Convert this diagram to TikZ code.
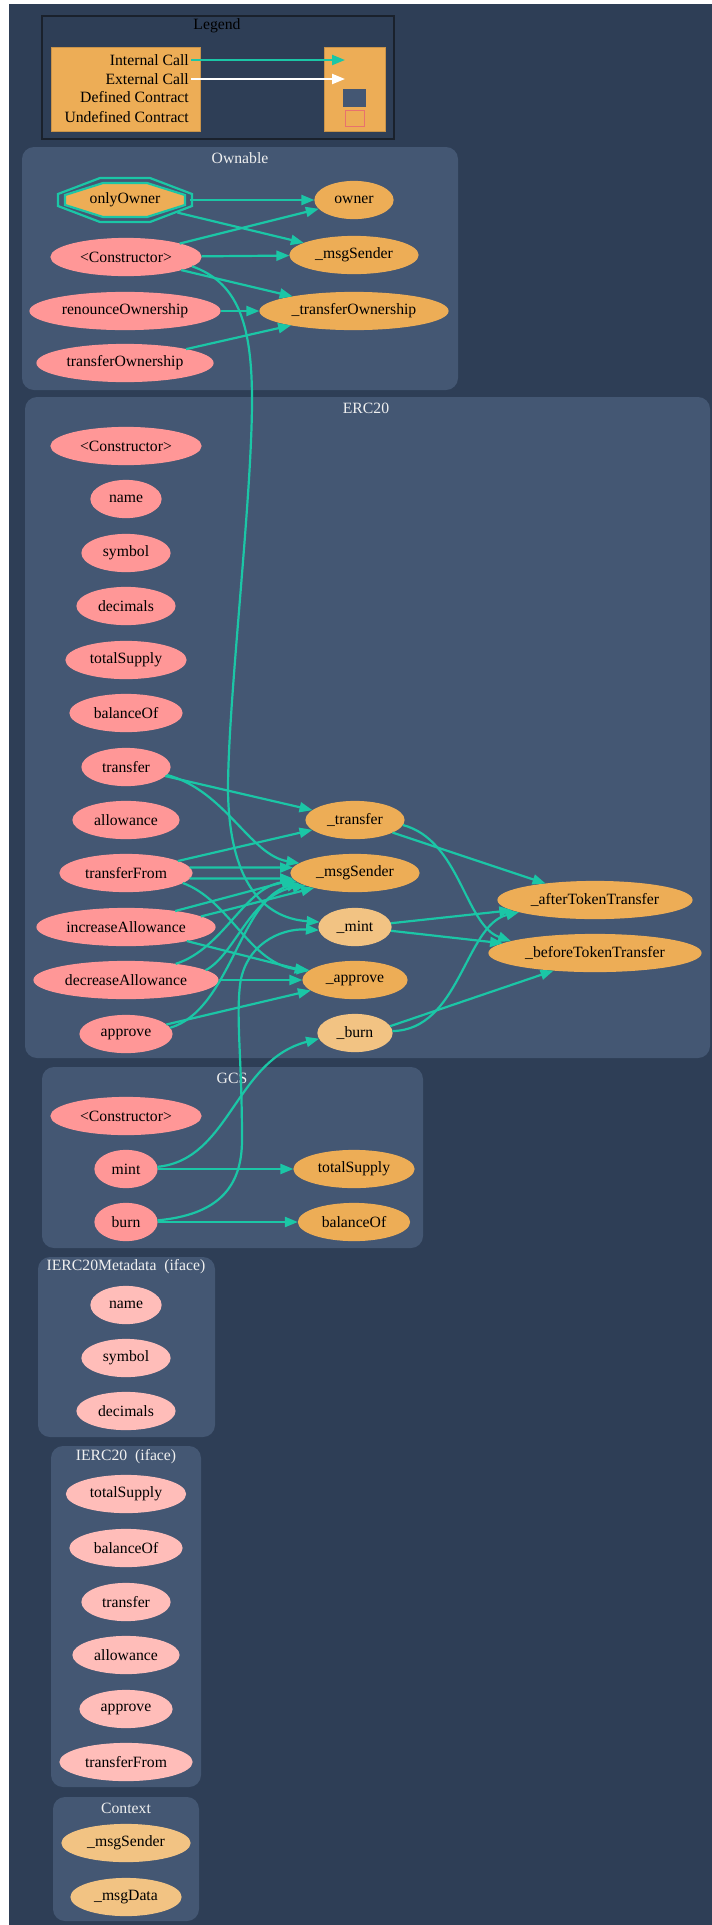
\documentclass[tikz,border=0pt]{standalone}
\usepackage{fontspec}
\setmainfont{Liberation Serif}
\usetikzlibrary{arrows.meta,shapes.geometric}
\definecolor{bgc}{HTML}{2E3E56}
\definecolor{clc}{HTML}{445773}
\definecolor{teal}{HTML}{1BC6A6}
\definecolor{pubc}{HTML}{FF9797}
\definecolor{extc}{HTML}{FFBDB9}
\definecolor{privc}{HTML}{EDAD56}
\definecolor{intc}{HTML}{F2C383}
\definecolor{titc}{HTML}{F0F0F0}
\definecolor{undc}{HTML}{E8726D}
\definecolor{legb}{HTML}{1A212C}
\begin{document}
\begin{tikzpicture}[x=1pt,y=-1pt,
  every node/.style={font=\fontsize{15.7}{18}\selectfont},
  fn/.style={ellipse, inner sep=0pt, line width=1.2pt, minimum height=37pt, text=black},
  pubn/.style={fn, fill=pubc, draw=pubc},
  extn/.style={fn, fill=extc, draw=extc},
  privn/.style={fn, fill=privc, draw=privc},
  intn/.style={fn, fill=intc, draw=intc},
  clus/.style={fill=clc, rounded corners=12pt},
  ctitle/.style={text=titc, inner sep=0pt},
  call/.style={draw=teal, line width=2.2pt, -{Triangle[length=13pt,width=10pt]}},
  extcall/.style={draw=white, line width=2.2pt, -{Triangle[length=13pt,width=10pt]}},
  legtxt/.style={anchor=east, inner sep=2pt, text=black}
]
\useasboundingbox (0,0) rectangle (712,1925);
\fill[white] (0,0) rectangle (712,1925);
\fill[bgc] (9,4) rectangle (712,1925);

% ---------- Legend ----------
\draw[legb, line width=2pt] (42,16) rectangle (394,139);
\node[text=black, inner sep=0pt] (legtitle) at (217,26) {Legend};
\filldraw[fill=privc, draw=privc!85!black, line width=0.6pt] (51,47) rectangle (200,131);
\filldraw[fill=privc, draw=privc!85!black, line width=0.6pt] (324,47) rectangle (385,131);
\node[legtxt] (lic) at (191,60) {Internal Call};
\node[legtxt] (lec) at (191,79) {External Call};
\node[legtxt] (ldc) at (191,97) {Defined Contract};
\node[legtxt] (luc) at (191,117) {Undefined Contract};
\coordinate (ric) at (345,60);
\coordinate (rec) at (345,79);
\fill[clc] (343,89) rectangle (366,107);
\draw[undc, line width=1pt] (345,110) rectangle (364,126);
\draw[call] (lic.east) -- (ric);
\draw[extcall] (lec.east) -- (rec);

% ---------- Clusters ----------
\fill[clus] (22,147) rectangle (458,390);
\node[ctitle] (tOwn) at (240,158) {Ownable};
\fill[clus] (25,397) rectangle (710,1058);
\node[ctitle] (tERC) at (366,408) {ERC20};
\fill[clus] (42,1067) rectangle (423,1248);
\node[ctitle] (tGCS) at (232,1078) {GCS};
\fill[clus] (38,1257) rectangle (215,1437);
\node[ctitle] (tMeta) at (126,1267) {IERC20Metadata\ \ (iface)};
\fill[clus] (51,1446) rectangle (201,1787);
\node[ctitle] (tIE) at (126,1457) {IERC20\ \ (iface)};
\fill[clus] (53,1797) rectangle (199,1921);
\node[ctitle] (tCtx) at (126,1808) {Context};

% ---------- Ownable ----------
\draw[shift={(125,200)}, draw=teal, fill=clc, line width=2.2pt]
  (-67,-6) -- (-25,-22) -- (25,-22) -- (67,-6) -- (67,6) -- (25,22) -- (-25,22) -- (-67,6) -- cycle;
\draw[shift={(125,200)}, draw=teal, fill=privc, line width=2.2pt]
  (-60,-5) -- (-22,-17) -- (22,-17) -- (60,-5) -- (60,5) -- (22,17) -- (-22,17) -- (-60,5) -- cycle;
\node[ellipse, inner sep=0pt, minimum width=130pt, minimum height=42pt, text=black] (oo) at (125,200) {onlyOwner};
\node[privn, minimum width=78pt] (own) at (354,200) {owner};
\node[pubn, minimum width=150pt] (ct1) at (126,257) {<Constructor>};
\node[privn, minimum width=128pt] (ms1) at (354,255) {\_msgSender};
\node[pubn, minimum width=190pt] (ren) at (125,311) {renounceOwnership};
\node[privn, minimum width=188pt] (to1) at (354,311) {\_transferOwnership};
\node[pubn, minimum width=176pt] (tow) at (125,363) {transferOwnership};

% ---------- ERC20 ----------
\node[pubn, minimum width=150pt] (ct2) at (126,446) {<Constructor>};
\node[pubn, minimum width=70pt] (nm) at (126,499) {name};
\node[pubn, minimum width=88pt] (sy) at (126,553) {symbol};
\node[pubn, minimum width=98pt] (dc) at (126,606) {decimals};
\node[pubn, minimum width=120pt] (ts) at (126,660) {totalSupply};
\node[pubn, minimum width=112pt] (bo) at (126,713) {balanceOf};
\node[pubn, minimum width=88pt] (tr) at (126,767) {transfer};
\node[pubn, minimum width=106pt] (al) at (126,820) {allowance};
\node[pubn, minimum width=132pt] (tf) at (126,873) {transferFrom};
\node[pubn, minimum width=178pt] (ia) at (126,927) {increaseAllowance};
\node[pubn, minimum width=184pt] (da) at (126,980) {decreaseAllowance};
\node[pubn, minimum width=92pt] (ap) at (126,1034) {approve};

\node[privn, minimum width=98pt] (itr) at (355,820) {\_transfer};
\node[privn, minimum width=128pt] (ims) at (355,873) {\_msgSender};
\node[intn, minimum width=72pt] (imint) at (355,927) {\_mint};
\node[privn, minimum width=104pt] (iap) at (355,980) {\_approve};
\node[intn, minimum width=74pt] (iburn) at (355,1033) {\_burn};
\node[privn, minimum width=194pt] (aft) at (595,900) {\_afterTokenTransfer};
\node[privn, minimum width=212pt] (bef) at (595,953) {\_beforeTokenTransfer};

% ---------- GCS ----------
\node[pubn, minimum width=150pt] (ct3) at (126,1116) {<Constructor>};
\node[pubn, minimum width=62pt] (gmint) at (126,1169) {mint};
\node[pubn, minimum width=62pt] (gburn) at (126,1222) {burn};
\node[privn, minimum width=120pt] (gts) at (354,1169) {totalSupply};
\node[privn, minimum width=111pt] (gbo) at (354,1222) {balanceOf};

% ---------- IERC20Metadata ----------
\node[extn, minimum width=70pt] (mnm) at (126,1305) {name};
\node[extn, minimum width=88pt] (msy) at (126,1358) {symbol};
\node[extn, minimum width=98pt] (mdc) at (126,1411) {decimals};

% ---------- IERC20 ----------
\node[extn, minimum width=119pt] (ets) at (126,1494) {totalSupply};
\node[extn, minimum width=112pt] (ebo) at (126,1548) {balanceOf};
\node[extn, minimum width=88pt] (etr) at (126,1602) {transfer};
\node[extn, minimum width=106pt] (eal) at (126,1655) {allowance};
\node[extn, minimum width=92pt] (eap) at (126,1709) {approve};
\node[extn, minimum width=132pt] (etf) at (126,1762) {transferFrom};

% ---------- Context ----------
\node[intn, minimum width=128pt] (cms) at (126,1843) {\_msgSender};
\node[intn, minimum width=110pt] (cmd) at (126,1897) {\_msgData};

% ---------- Edges: Ownable ----------
\draw[call] (oo) -- (own);
\draw[call] (oo) -- (ms1);
\draw[call] (ct1) -- (own);
\draw[call] (ct1) -- (ms1);
\draw[call] (ct1) -- (to1);
\draw[call] (ren) -- (to1);
\draw[call] (tow) -- (to1);
\draw[call] (ct1.-8) .. controls (236,282) and (252,320) .. (252,400)
  .. controls (252,500) and (228,700) .. (228,790)
  .. controls (229,880) and (262,918) .. (imint.172);

% ---------- Edges: ERC20 ----------
\draw[call] (tr) -- (itr);
\draw[call] (tr.-11) .. controls (225,790) and (250,855) .. (ims.170);
\draw[call] (tf) -- (itr);
\draw[call] (tf.5) -- (ims.175);
\draw[call] (tf.-5) -- (ims.185);
\draw[call] (tf.-10) .. controls (230,900) and (250,965) .. (iap.168);
\draw[call] (ia.18) -- (ims.186);
\draw[call] (ia.8) -- (ims.200);
\draw[call] (ia.-13) -- (iap.170);
\draw[call] (da.18) .. controls (225,948) and (245,885) .. (ims.188);
\draw[call] (da.7) .. controls (235,955) and (250,895) .. (ims.194);
\draw[call] (da) -- (iap);
\draw[call] (ap.8) .. controls (230,1010) and (240,900) .. (ims.190);
\draw[call] (ap) -- (iap);
\draw[call] (itr) -- (aft);
\draw[call] (itr.-6) .. controls (460,840) and (465,925) .. (bef.172);
\draw[call] (imint.6) -- (aft.187);
\draw[call] (imint.-6) -- (bef.174);
\draw[call] (iburn.3) .. controls (460,1030) and (465,925) .. (aft.189);
\draw[call] (iburn.11) -- (bef.203);

% ---------- Edges: GCS ----------
\draw[call] (gmint) -- (gts);
\draw[call] (gburn) -- (gbo);
\draw[call] (gmint.4) .. controls (230,1160) and (235,1060) .. (iburn.189);
\draw[call] (gburn.3) .. controls (215,1215) and (242,1190) .. (242,1140)
  .. controls (242,1060) and (236,1020) .. (240,985)
  .. controls (245,945) and (280,928) .. (imint.185);
\end{tikzpicture}
\end{document}
